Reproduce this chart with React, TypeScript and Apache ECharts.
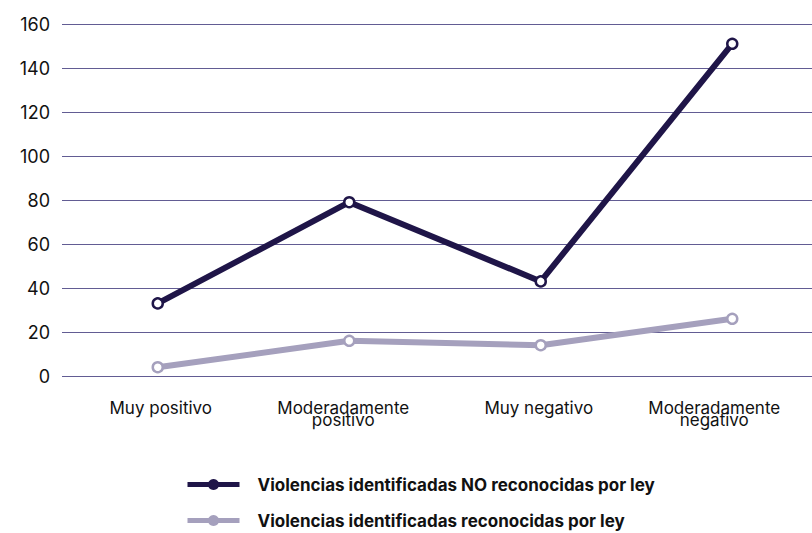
import React, { useEffect, useRef } from "react";
import * as echarts from "echarts";

const categories = ["Muy positivo", "Moderadamente\npositivo", "Muy negativo", "Moderadamente\nnegativo"];
const noReconocidas = [33, 79, 43, 151];
const reconocidas = [4, 16, 14, 26];
const seriesNames = ["Violencias identificadas NO reconocidas por ley", "Violencias identificadas reconocidas por ley"];
const dark = "#1f1548";
const light = "#a5a0bd";

export default function App() {
  const ref = useRef<HTMLDivElement>(null);
  useEffect(() => {
    const chart = echarts.init(ref.current!, null, { renderer: "svg" });
    const font = "Inter, 'Noto Sans', sans-serif";
    const legendBase = {
      orient: "horizontal",
      left: 185,
      padding: 0,
      itemWidth: 52,
      itemHeight: 14,
      textStyle: { fontSize: 17, fontWeight: "bold", color: "#111", fontFamily: font, padding: [0, 0, 0, 13] },
    };
    const labelPad = [[0, 0, 0, 6], [0, 12, 0, 0], [0, 4, 0, 0], [0, 36, 0, 0]];
    chart.setOption({
      animation: false,
      textStyle: { fontFamily: font },
      grid: { left: 62, right: 0, top: 24, bottom: 157 },
      xAxis: {
        type: "category",
        data: categories.map((c, i) => ({ value: c, textStyle: { padding: labelPad[i] } })),
        boundaryGap: true,
        axisLine: { show: false },
        axisTick: { show: false },
        axisLabel: { color: "#111", fontSize: 17, margin: 26, lineHeight: 12, fontFamily: font },
      },
      yAxis: {
        type: "value",
        min: 0,
        max: 160,
        interval: 20,
        axisLine: { show: false },
        axisTick: { show: false },
        axisLabel: { color: "#111", fontSize: 18, margin: 12, fontFamily: font },
        splitLine: { lineStyle: { color: "#625c93", width: 1 } },
      },
      legend: [
        {
          ...legendBase,
          top: 476,
          data: [{ name: seriesNames[0], itemStyle: { color: dark, borderWidth: 0 }, lineStyle: { width: 5, color: dark } }],
        },
        {
          ...legendBase,
          top: 512,
          data: [{ name: seriesNames[1], itemStyle: { color: light, borderWidth: 0 }, lineStyle: { width: 5, color: light } }],
        },
      ],
      series: [
        {
          name: seriesNames[0],
          type: "line",
          data: noReconocidas,
          symbol: "circle",
          symbolSize: 10,
          lineStyle: { width: 6, color: dark },
          itemStyle: { color: "#fff", borderColor: dark, borderWidth: 2.5 },
        },
        {
          name: seriesNames[1],
          type: "line",
          data: reconocidas,
          symbol: "circle",
          symbolSize: 10,
          lineStyle: { width: 6, color: light },
          itemStyle: { color: "#fff", borderColor: light, borderWidth: 2.5 },
        },
      ],
    });
    return () => chart.dispose();
  }, []);
  return (
    <div style={{ width: 812, height: 533, position: "absolute", left: 0, top: 0, overflow: "hidden" }}>
      <div ref={ref} style={{ width: 828, height: 533 }} />
    </div>
  );
}
